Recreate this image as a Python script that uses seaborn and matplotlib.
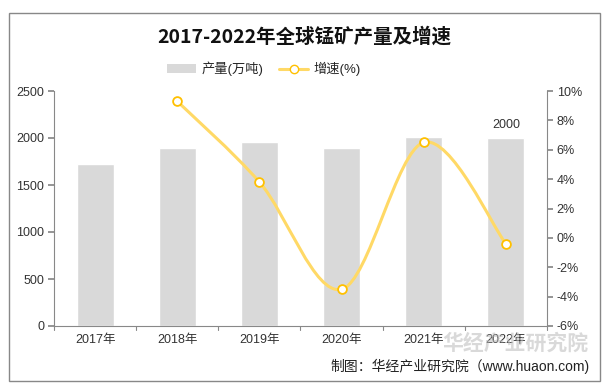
import matplotlib
matplotlib.use("Agg")
import matplotlib.pyplot as plt
import seaborn as sns
import numpy as np
import pandas as pd
from matplotlib.path import Path
from matplotlib.patches import PathPatch, Rectangle
from matplotlib.lines import Line2D
from matplotlib.patches import Patch

years = ["2017年", "2018年", "2019年", "2020年", "2021年", "2022年"]
production = [1723, 1894, 1957, 1894, 2010, 2000]
growth_years = ["2018年", "2019年", "2020年", "2021年", "2022年"]
growth = [9.3, 3.8, -3.5, 6.5, -0.4]
left_ticks = [0, 500, 1000, 1500, 2000, 2500]
right_ticks = [-6, -4, -2, 0, 2, 4, 6, 8, 10]

sns.set_theme(style="white")
plt.rcParams['font.family'] = ['Liberation Sans', 'Noto Sans CJK SC', 'DejaVu Sans']

fig = plt.figure(figsize=(6.08, 3.89), dpi=100)
ax = fig.add_axes([54/608, 1-326/389, (547-54)/608, (326-91)/389])

df = pd.DataFrame({"year": years, "prod": production})
sns.barplot(data=df, x="year", y="prod", color="#D9D9D9", width=0.45, saturation=1, ax=ax)
ax.set_xlim(-0.5, 5.5)
ax.set_ylim(0, 2500)
ax.set_yticks(left_ticks)
ax.set_xlabel("")
ax.set_ylabel("")
ax.tick_params(axis='y', labelsize=9, colors="#333333", length=4, direction='out', left=True, pad=3)
ax.tick_params(axis='x', labelsize=9, colors="#333333", length=0, pad=6)
for x in np.arange(-0.5, 6.0, 1.0):
    ax.plot([x, x], [0, -0.018], transform=ax.get_xaxis_transform(), color="#888888", lw=0.8, clip_on=False)
for s in ["top", "right"]:
    ax.spines[s].set_visible(False)
for s in ["left", "bottom"]:
    ax.spines[s].set_color("#888888")
    ax.spines[s].set_linewidth(0.8)
ax.tick_params(axis='y', color="#888888")
ax.annotate(str(production[-1]), (5, production[-1]), xytext=(0, 5), textcoords="offset points",
            ha="center", va="bottom", fontsize=9, color="#333333")

ax2 = ax.twinx()
ax2.set_ylim(-6, 10)
ax2.set_yticks(right_ticks)
ax2.set_yticklabels([f"{t}%" for t in right_ticks])
ax2.tick_params(axis='y', labelsize=9, colors="#333333", length=4, direction='out', right=True, pad=3, color="#888888")
for s in ["top", "left", "bottom"]:
    ax2.spines[s].set_visible(False)
ax2.spines["right"].set_color("#888888")
ax2.spines["right"].set_linewidth(0.8)
ax2.grid(False)

xs = np.array([years.index(y) for y in growth_years], dtype=float)
ys = np.array(growth, dtype=float)
# smooth cubic Bezier (Catmull-Rom style) through the points
verts = [(xs[0], ys[0])]
codes = [Path.MOVETO]
n = len(xs)
t = 1/6
for i in range(n-1):
    p0 = (xs[max(i-1, 0)], ys[max(i-1, 0)])
    p1 = (xs[i], ys[i])
    p2 = (xs[i+1], ys[i+1])
    p3 = (xs[min(i+2, n-1)], ys[min(i+2, n-1)])
    c1 = (p1[0] + (p2[0]-p0[0])*t, p1[1] + (p2[1]-p0[1])*t)
    c2 = (p2[0] - (p3[0]-p1[0])*t, p2[1] - (p3[1]-p1[1])*t)
    verts += [c1, c2, p2]
    codes += [Path.CURVE4]*3
ax2.add_patch(PathPatch(Path(verts, codes), fill=False, edgecolor="#FFD966", lw=2.2, zorder=3))
gdf = pd.DataFrame({"x": xs, "g": ys})
sns.scatterplot(data=gdf, x="x", y="g", ax=ax2, s=40, color="white", edgecolor="#FFC000",
                linewidth=1.3, zorder=4, legend=False)
ax2.set_xlabel("")
ax2.set_ylabel("")
ax2.set_xlim(-0.5, 5.5)

# legend
handles = [Patch(facecolor="#D9D9D9", edgecolor="none", label="产量(万吨)"),
           Line2D([0], [0], color="#FFD966", lw=2.2, marker="o", markerfacecolor="white",
                  markeredgecolor="#FFC000", markersize=6, label="增速(%)")]
fig.legend(handles=handles, loc="center", bbox_to_anchor=(264/608, 1-69/389), ncol=2, frameon=False,
           fontsize=9.5, handlelength=2.2, columnspacing=1.2, handletextpad=0.4)

fig.text(304/608, 1-37/389, "2017-2022年全球锰矿产量及增速", ha="center", va="center",
         fontsize=14, fontweight="bold", color="#111111",
         family=['Noto Sans CJK SC', 'DejaVu Sans'])

fig.text(515/608, 1-343/389, "华经产业研究院", ha="center", va="center", fontsize=15,
         fontweight="bold", color="#BBBBBB", alpha=0.55, family=['Noto Sans CJK SC'])
fig.text(590/608, 1-366/389, "制图：华经产业研究院（www.huaon.com)", ha="right", va="center",
         fontsize=10, color="#222222")

fig.patches.append(Rectangle((9/608, 1-381/389), (600-9)/608, (381-13)/389, transform=fig.transFigure,
                             fill=False, edgecolor="#888888", lw=1.0))

fig.savefig("out.png", dpi=100)
